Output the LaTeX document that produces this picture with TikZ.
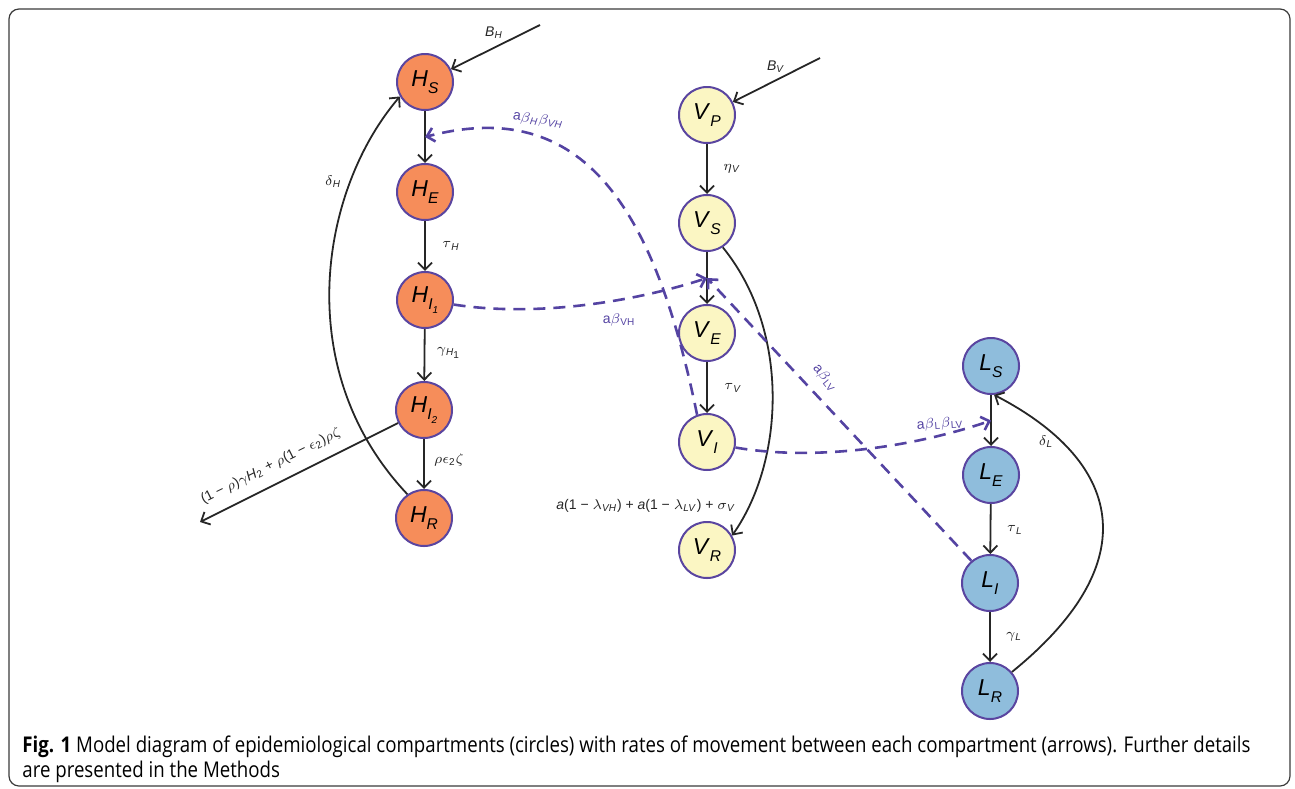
\documentclass[tikz,border=0pt]{standalone}
\usepackage{fontspec}
\setmainfont{Liberation Sans}
\newfontfamily\capfont[FakeStretch=0.86]{Open Sans}
\usetikzlibrary{arrows.meta,calc}

\definecolor{hfill}{HTML}{F68D5A}
\definecolor{vfill}{HTML}{FBF6C3}
\definecolor{lfill}{HTML}{8FBDDC}
\definecolor{rim}{HTML}{5A45A0}
\definecolor{flow}{HTML}{5443A2}
\definecolor{framegray}{HTML}{3A3A3A}

% compartment label: italic letter with an italic subscript
\newcommand{\cmp}[2]{\textit{#1}\raisebox{-3.6pt}{\fontsize{7.8}{8}\selectfont\textit{#2}}}
\newcommand{\smallsub}[1]{\raisebox{-2.2pt}{\fontsize{5}{5}\selectfont #1}}

\begin{document}
\begin{tikzpicture}[x=0.5pt,y=-0.5pt,
  comp/.style={circle, draw=rim, line width=1pt, minimum size=28pt,
    inner sep=0pt, font=\fontsize{11.5}{12}\selectfont},
  hcomp/.style={comp, fill=hfill},
  vcomp/.style={comp, fill=vfill},
  lcomp/.style={comp, fill=lfill},
  flowarrow/.style={-{Straight Barb[length=3.6pt,width=7pt]}, line width=0.9pt, black!85},
  infect/.style={-{Straight Barb[length=3.6pt,width=7pt]}, dash pattern=on 6pt off 4pt,
    line width=1.3pt, flow},
  rate/.style={inner sep=1pt, font=\fontsize{7}{8}\selectfont, black!85},
  irate/.style={inner sep=1pt, font=\fontsize{7}{8}\selectfont, flow}]

\useasboundingbox (0,0) rectangle (1295,788);
\draw[framegray, line width=0.6pt, rounded corners=5pt] (9,9) rectangle (1290,786);

% host compartments
\node[hcomp] (hs)  at (425,82)  {\cmp{H}{S}};
\node[hcomp] (he)  at (425,192) {\cmp{H}{E}};
\node[hcomp] (hi1) at (425,300) {\cmp{H}{I\smallsub{1}}};
\node[hcomp] (hi2) at (424,410) {\cmp{H}{I\smallsub{2}}};
\node[hcomp] (hr)  at (424,518) {\cmp{H}{R}};

% vector compartments
\node[vcomp] (vp) at (707,115) {\cmp{V}{P}};
\node[vcomp] (vs) at (707,223) {\cmp{V}{S}};
\node[vcomp] (ve) at (707,333) {\cmp{V}{E}};
\node[vcomp] (vi) at (707,442) {\cmp{V}{I}};
\node[vcomp] (vr) at (707,550) {\cmp{V}{R}};

% reservoir compartments
\node[lcomp] (ls) at (991,366) {\cmp{L}{S}};
\node[lcomp] (le) at (991,475) {\cmp{L}{E}};
\node[lcomp] (li) at (990,583) {\cmp{L}{I}};
\node[lcomp] (lr) at (990,691) {\cmp{L}{R}};

% free ends
\coordinate (bh)  at (540,25);
\coordinate (bv)  at (820,58);
\coordinate (out) at (200,522);

% progression arrows
\draw[flowarrow] (bh) -- (hs);
\draw[flowarrow] (hs) -- (he);
\draw[flowarrow] (he) -- (hi1);
\draw[flowarrow] (hi1) -- (hi2);
\draw[flowarrow] (hi2) -- (hr);
\draw[flowarrow] (hi2) -- (out);
\draw[flowarrow] (hr.125) .. controls (290,370) and (320,190) .. (hs.210);

\draw[flowarrow] (bv) -- (vp);
\draw[flowarrow] (vp) -- (vs);
\draw[flowarrow] (vs) -- (ve);
\draw[flowarrow] (ve) -- (vi);
\draw[flowarrow] (vs.-57) .. controls (790,330) and (785,460) .. (vr.30);

\draw[flowarrow] (ls) -- (le);
\draw[flowarrow] (le) -- (li);
\draw[flowarrow] (li) -- (lr);
\draw[flowarrow] (lr.41) .. controls (1150,560) and (1120,460) .. (ls.-84);

% infection arrows
\coordinate (hsin) at ($(hs)!0.5!(he)$);
\coordinate (vsin) at ($(vs)!0.5!(ve)$);
\coordinate (lsin) at ($(ls)!0.5!(le)$);
\draw[infect] (vi.110) .. controls (655,210) and (585,95) .. (hsin);
\draw[infect] (hi1.-9) .. controls (540,318) and (640,300) .. (vsin);
\draw[infect] (li.130) -- (vsin);
\draw[infect] (vi.-11) .. controls (820,462) and (920,445) .. (lsin);

% rate labels
\node[rate] (lbh) at (494,33) {\textit{B}\textsubscript{\textit{H}}};
\node[rate] (lbv) at (776,67) {\textit{B}\textsubscript{\textit{V}}};
\node[rate] (ldh) at (333,182) {$\delta$\textsubscript{\textit{H}}};
\node[rate] (lth) at (451,246) {$\tau$\textsubscript{\textit{H}}};
\node[rate] (lgh) at (449,353) {$\gamma$\textsubscript{\textit{H}\textsubscript{1}}};
\node[rate] (lrz) at (449,460) {$\rho\epsilon$\textsubscript{2}$\zeta$};
\node[rate, rotate=26.5] (lout) at (271,466)
  {(1 − $\rho$)$\gamma$\textit{H}\textsubscript{2} + $\rho$(1 − $\epsilon$\textsubscript{2})$\rho\zeta$};
\node[rate] (lev) at (732,169) {$\eta$\textsubscript{\textit{V}}};
\node[rate] (ltv) at (733,388) {$\tau$\textsubscript{\textit{V}}};
\node[rate] (lvr) at (646,506)
  {\textit{a}(1 − $\lambda$\textsubscript{\textit{VH}}) + \textit{a}(1 − $\lambda$\textsubscript{\textit{LV}}) + $\sigma$\textsubscript{\textit{V}}};
\node[rate] (ltl) at (1015,530) {$\tau$\textsubscript{\textit{L}}};
\node[rate] (lgl) at (1014,637) {$\gamma$\textsubscript{\textit{L}}};
\node[rate] (ldl) at (1046,442) {$\delta$\textsubscript{\textit{L}}};

\node[irate, rotate=-8] (lhv) at (538,120) {a$\beta$\textsubscript{\textit{H}}$\beta$\textsubscript{\textit{VH}}};
\node[irate] (lvh) at (619,320) {a$\beta$\textsubscript{VH}};
\node[irate, rotate=-50] (llv) at (825,378) {a$\beta$\textsubscript{LV}};
\node[irate, rotate=4] (lll) at (940,424) {a$\beta$\textsubscript{L}$\beta$\textsubscript{LV}};

% caption (anchored on the baseline of its last line)
\node[anchor=base west, inner sep=0pt, align=left,
  font=\capfont\fontsize{10.85}{12.5}\selectfont] (cap) at (22,777)
  {\textbf{Fig. 1} Model diagram of epidemiological compartments (circles) with rates of movement between each compartment (arrows). Further details\\
   are presented in the Methods};
\end{tikzpicture}
\end{document}
